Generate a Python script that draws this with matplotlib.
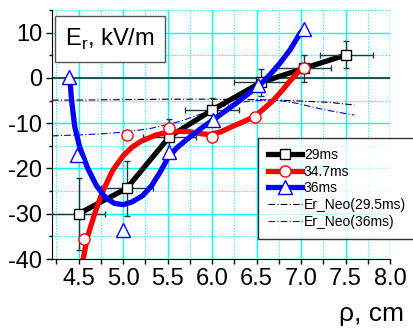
import matplotlib
matplotlib.use("Agg")
import matplotlib.pyplot as plt
from matplotlib.lines import Line2D
from matplotlib.ticker import MultipleLocator

plt.rcParams["font.family"] = ["Liberation Sans", "DejaVu Sans"]
plt.rcParams["axes.unicode_minus"] = False

# 29 ms: measured points with error bars
t29_x = [4.50, 5.04, 5.52, 6.00, 6.55, 7.03, 7.51]
t29_y = [-30.0, -24.4, -13.0, -7.1, -1.0, 2.1, 5.1]
t29_xerr = [0.30, 0.29, 0.30, 0.30, 0.30, 0.31, 0.30]
t29_yerr = [8.0, 6.0, 4.0, 2.6, 3.0, 3.0, 3.0]

# 34.7 ms: measured points and the fitted curve
t347_x = [4.56, 5.04, 5.51, 6.00, 6.48, 7.03]
t347_y = [-35.5, -12.6, -11.0, -13.0, -8.6, 2.2]
fit347_x = [4.55, 4.60, 4.68, 4.76, 4.88, 5.00, 5.10, 5.20, 5.37, 5.50, 5.64,
            5.75, 5.86, 5.97, 6.10, 6.23, 6.35, 6.48, 6.60, 6.69, 6.80, 6.87,
            6.95, 7.03]
fit347_y = [-40.0, -35.0, -30.0, -25.5, -20.5, -17.2, -15.3, -14.0, -12.6,
            -12.0, -11.8, -11.9, -12.3, -12.5, -11.9, -10.7, -9.7, -8.5, -6.5,
            -4.9, -2.5, -0.8, 0.9, 2.5]

# 36 ms: measured points and the fitted curve
t36_x = [4.39, 4.48, 5.00, 5.51, 6.01, 6.52, 7.03]
t36_y = [0.3, -17.0, -33.6, -16.4, -9.3, -1.5, 10.8]
fit36_x = [4.40, 4.42, 4.455, 4.51, 4.60, 4.70, 4.80, 4.90, 5.00, 5.10, 5.22,
           5.32, 5.41, 5.50, 5.60, 5.71, 5.80, 5.90, 6.01, 6.15, 6.27, 6.40,
           6.54, 6.65, 6.76, 6.88, 6.99, 7.03]
fit36_y = [0.0, -4.9, -10.7, -15.2, -19.9, -23.8, -26.4, -27.7, -28.0, -27.4,
           -26.0, -23.8, -21.0, -17.8, -15.5, -13.7, -12.3, -10.8, -9.3, -7.3,
           -5.6, -3.6, -1.5, 0.7, 3.2, 6.3, 9.9, 10.8]

# neoclassical estimates
neo29_x = [4.2, 4.5, 5.0, 5.5, 6.0, 6.5, 6.8, 7.1, 7.32, 7.6]
neo29_y = [-4.9, -4.9, -4.8, -4.7, -4.7, -4.8, -4.95, -5.2, -5.4, -6.0]
neo36_x = [4.2, 4.5, 4.8, 5.04, 5.3, 5.5, 5.64, 5.8, 6.0, 6.09, 6.25, 6.39,
           6.52, 6.65, 6.8, 6.95, 7.1, 7.28, 7.45, 7.6]
neo36_y = [-12.8, -12.6, -12.3, -11.9, -11.2, -10.3, -9.6, -8.5, -7.1, -6.4,
           -5.7, -5.2, -5.0, -4.9, -5.1, -5.6, -6.3, -7.1, -7.7, -8.2]

ERR = "#1f3838"
BLUE = "#0000ff"
DASHDOT = (0, (6, 2, 1, 2))

fig = plt.figure(figsize=(4.14, 3.29), dpi=100)
ax = fig.add_axes([52 / 414, 1 - 259 / 329, 338 / 414, 249 / 329])
ax.set_xlim(4.2, 8.0)
ax.set_ylim(-40, 15)
for s in ("top", "right"):
    ax.spines[s].set_visible(False)

ax.xaxis.set_major_locator(MultipleLocator(0.5))
ax.xaxis.set_minor_locator(MultipleLocator(0.25))
ax.yaxis.set_major_locator(MultipleLocator(10))
ax.yaxis.set_minor_locator(MultipleLocator(5))
ax.xaxis.set_major_formatter(lambda v, p: f"{v:.1f}")
ax.tick_params(axis="x", which="both", length=3.5, width=1, labelsize=17, pad=3)
ax.tick_params(axis="y", which="major", length=4, width=1, labelsize=17, pad=3)
ax.tick_params(axis="y", which="minor", length=2.5, width=1)

ax.set_axisbelow(True)
ax.grid(which="major", color="#00ffff", lw=1.0, ls="-")
ax.grid(which="minor", color="#00ffff", lw=0.8, ls=(0, (1, 1.5)))
ax.axhline(0, color="#1a4545", lw=1.3, zorder=1.5)

ax.plot(neo29_x, neo29_y, color="black", lw=0.8, ls=DASHDOT, zorder=2)
ax.plot(neo36_x, neo36_y, color=BLUE, lw=0.8, ls=DASHDOT, zorder=2)

ax.plot(t29_x, t29_y, color="black", lw=3.8, zorder=3, solid_capstyle="round")
ax.errorbar(t29_x, t29_y, xerr=t29_xerr, yerr=t29_yerr, fmt="none", ecolor=ERR,
            elinewidth=1.0, capsize=2.5, capthick=1.0, zorder=3.5)
ax.plot(t29_x, t29_y, ls="none", marker="s", ms=7.5, mfc="white", mec="black",
        mew=1.0, zorder=4)

ax.plot(fit347_x, fit347_y, color="red", lw=3.8, zorder=5, solid_joinstyle="round")
ax.plot(t347_x, t347_y, ls="none", marker="o", ms=8, mfc="white", mec="red",
        mew=1.0, zorder=5.5)

ax.plot(fit36_x, fit36_y, color=BLUE, lw=3.8, zorder=6, solid_joinstyle="round")
ax.plot(t36_x, t36_y, ls="none", marker="^", ms=9.5, mfc="white", mec=BLUE,
        mew=1.0, zorder=6.5)

fig.text(110 / 414, 1 - 39 / 329, r"E$_\mathregular{r}$, kV/m", fontsize=17,
         ha="center", va="center", zorder=10,
         bbox=dict(boxstyle="square,pad=0.45", fc="white", ec="#555555", lw=1.0))

fig.text(404 / 414, 1 - 314 / 329, "ρ, cm", fontsize=19, ha="right", va="center")

handles = [
    Line2D([], [], color="black", lw=3.8, marker="s", ms=7.5, mfc="white", mec="black"),
    Line2D([], [], color="red", lw=3.8, marker="o", ms=8, mfc="white", mec="red"),
    Line2D([], [], color=BLUE, lw=3.8, marker="^", ms=9.5, mfc="white", mec=BLUE),
    Line2D([], [], color="black", lw=0.8, ls=DASHDOT),
    Line2D([], [], color=BLUE, lw=0.8, ls=DASHDOT),
]
labels = ["29ms", "34.7ms", "36ms", "Er_Neo(29.5ms)", "Er_Neo(36ms)"]
leg = fig.legend(handles, labels, loc="upper left",
                 bbox_to_anchor=(258 / 414, 1 - 138 / 329), fontsize=10,
                 frameon=True, fancybox=False, shadow=False, handlelength=2.5,
                 handletextpad=0.1, labelspacing=0.2, borderpad=0.7,
                 borderaxespad=0)
leg.get_frame().set_edgecolor("black")
leg.get_frame().set_linewidth(1.0)
leg.set_zorder(20)

fig.savefig("out.png", dpi=100)
